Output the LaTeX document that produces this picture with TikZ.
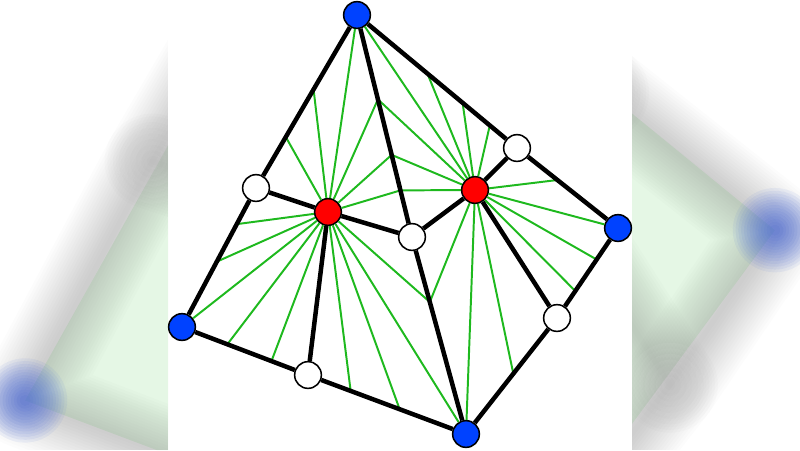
\documentclass[tikz,border=0pt]{standalone}
\usetikzlibrary{calc,backgrounds}
\definecolor{vblue}{RGB}{0,66,255}
\definecolor{vred}{RGB}{255,0,0}
\definecolor{fgreen}{RGB}{30,185,30}
\definecolor{haze}{RGB}{60,95,215}
\tikzset{
  corner/.style={circle,draw,fill=vblue,line width=1.1pt,minimum size=19pt,inner sep=0pt},
  centre/.style={corner,fill=vred},
  midpt/.style={corner,fill=white},
  edge/.style={line width=3.2pt},
  flow/.style={fgreen,line width=1.4pt},
  smear/.style={opacity=.012,line cap=round,line join=round},
}
\begin{document}
\begin{tikzpicture}[x=0.025cm,y=-0.025cm]
\useasboundingbox (0,0) rectangle (800,450);
% outer corners
\node[corner] (T) at (357,15) {};
\node[corner] (L) at (182,327) {};
\node[corner] (B) at (466,434) {};
\node[corner] (R) at (618,228) {};
% points on the edges
\node[midpt] (W1) at (256,188) {};
\node[midpt] (W2) at (308,375) {};
\node[midpt] (W3) at (412,237) {};
\node[midpt] (W4) at (517,148) {};
\node[midpt] (W5) at (557,318) {};
% cell centres
\node[centre] (C1) at (328,212) {};
\node[centre] (C2) at (475,190) {};

% green fans
\foreach \a/\b/\t in {T/W1/.43, T/W1/.705, W1/L/.26, W1/L/.53, L/W2/.36, L/W2/.71,
    W2/B/.27, W2/B/.58, B/W3/.67, W3/T/.21, W3/T/.37, W3/T/.62}
  \draw[flow] (C1) -- ($(\a)!\t!(\b)$);
\foreach \n in {T,L,B}
  \draw[flow] (C1) -- (\n);
\foreach \a/\b/\t in {T/W4/.44, T/W4/.66, T/W4/.83, W4/R/.40, R/W5/.35, R/W5/.70,
    W5/B/.48, B/W3/.67, W3/T/.21, W3/T/.37, W3/T/.62}
  \draw[flow] (C2) -- ($(\a)!\t!(\b)$);
\foreach \n in {T,R,B}
  \draw[flow] (C2) -- (\n);

% black mesh
\draw[edge] (T) -- (W1) -- (L) -- (W2) -- (B) -- (W5) -- (R) -- (W4) -- (T);
\draw[edge] (T) -- (W3) -- (B);
\draw[edge] (W1) -- (C1) -- (W3) -- (C2) -- (W4);
\draw[edge] (C1) -- (W2);
\draw[edge] (C2) -- (W5);

% blurred copy at the sides
\foreach \n in {T,L,B,R,W1,W2,W3,W4,W5,C1,C2}
  \coordinate (s\n) at ($(400,225)!1.72!(\n)$);
\begin{pgfonlayer}{background}
\begin{scope}
\clip (0,0) rectangle (168,450) (632,0) rectangle (800,450);
\fill[green!70!black,opacity=.1] (sT) -- (sL) -- (sB) -- (sR) -- cycle;
\foreach \w in {4,8,...,68} {
  \draw[smear,line width=\w pt] (sT) -- (sW1) -- (sL) -- (sW2) -- (sB) -- (sW5) -- (sR) -- (sW4) -- cycle;
  \draw[smear,line width=\w pt] (sT) -- (sW3) -- (sB);
  \draw[smear,line width=\w pt] (sW1) -- (sC1) -- (sW3) -- (sC2) -- (sW4);
  \draw[smear,line width=\w pt] (sC1) -- (sW2);
  \draw[smear,line width=\w pt] (sC2) -- (sW5);
}
\foreach \n in {W1,W4,W5}
  \foreach \r in {6,10,...,30}
    \fill[white,opacity=.04] (s\n) circle (\r pt);
\foreach \n in {L,R}
  \foreach \r in {4,6,...,30}
    \fill[haze,opacity=.07] (s\n) circle (\r pt);
\end{scope}
\end{pgfonlayer}
\end{tikzpicture}
\end{document}
